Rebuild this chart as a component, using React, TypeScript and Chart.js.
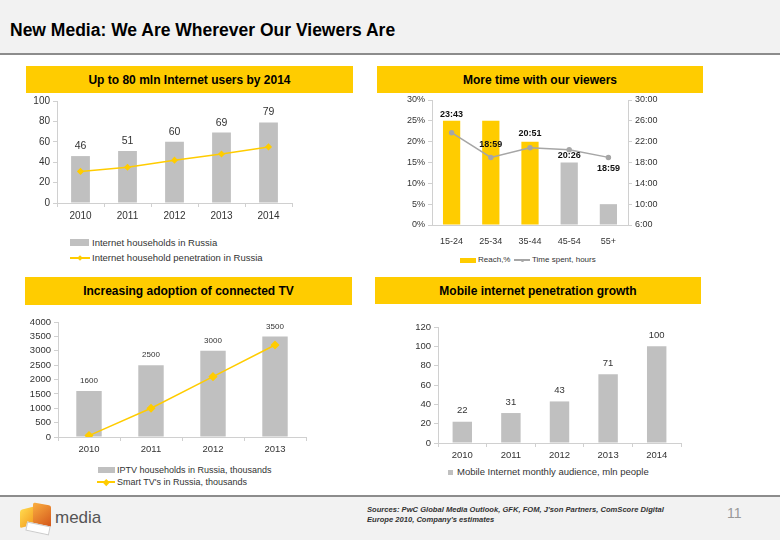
import React, { useEffect, useRef } from "react";
import { Chart, registerables } from "chart.js";

Chart.register(...registerables);

// ---------- DATA ----------
const yearsInternet = ["2010", "2011", "2012", "2013", "2014"];
const internetHouseholds = [46, 51, 60, 69, 79];
const internetPenetration = [31, 35, 42, 48, 55];

const ageGroups = ["15-24", "25-34", "35-44", "45-54", "55+"];
const reachPct = [25, 25, 20, 15, 5];
const timeSpentHours = [23 + 43 / 60, 18 + 59 / 60, 20 + 51 / 60, 20 + 26 / 60, 18 + 59 / 60];
const timeSpentLabels = ["23:43", "18:59", "20:51", "20:26", "18:59"];

const yearsTV = ["2010", "2011", "2012", "2013"];
const iptvHouseholds = [1600, 2500, 3000, 3500];
const smartTVs = [50, 1000, 2100, 3200];

const yearsMobile = ["2010", "2011", "2012", "2013", "2014"];
const mobileAudience = [22, 31, 43, 71, 100];

// ---------- STYLE ----------
const YELLOW = "#FFCC00";
const GRAY_BAR = "#C0C0C0";
const AXIS = "#D0D0D0";
const TEXT = "#333333";
const FONT = "'Liberation Sans', Arial, sans-serif";

const valueLabels = {
  id: "valueLabels",
  afterDatasetsDraw(chart: any, _args: any, opts: any) {
    if (!opts || !opts.items) return;
    const ctx = chart.ctx;
    opts.items.forEach((item: any) => {
      const meta = chart.getDatasetMeta(item.dataset);
      const ds = chart.data.datasets[item.dataset];
      meta.data.forEach((el: any, i: number) => {
        const text = item.texts ? item.texts[i] : String(ds.data[i]);
        const dy = Array.isArray(item.dy) ? item.dy[i] : item.dy;
        ctx.save();
        ctx.font = item.font;
        ctx.fillStyle = item.color;
        ctx.textAlign = "center";
        ctx.textBaseline = "middle";
        ctx.fillText(text, el.x, el.y + dy);
        ctx.restore();
      });
    });
  },
};

function yAxis(width: number, size: number, extra: any = {}) {
  return {
    afterFit: (s: any) => {
      s.width = width;
    },
    grid: { drawOnChartArea: false, tickLength: 4, color: AXIS },
    border: { color: AXIS },
    ticks: { color: TEXT, font: { family: FONT, size }, padding: 3 },
    ...extra,
  };
}

function xAxis(height: number, size: number, extra: any = {}) {
  return {
    afterFit: (s: any) => {
      s.height = height;
    },
    grid: { drawOnChartArea: false, offset: true, tickLength: 4, color: AXIS },
    border: { color: AXIS },
    ticks: { color: TEXT, font: { family: FONT, size }, padding: 3, maxRotation: 0 },
    ...extra,
  };
}

function ChartBox(props: { left: number; top: number; width: number; height: number; make: () => any }) {
  const ref = useRef<HTMLCanvasElement>(null);
  useEffect(() => {
    const chart = new Chart(ref.current as HTMLCanvasElement, props.make());
    return () => chart.destroy();
  }, []);
  return (
    <div style={{ position: "absolute", left: props.left, top: props.top, width: props.width, height: props.height }}>
      <canvas ref={ref} width={props.width} height={props.height} />
    </div>
  );
}

const baseOptions = (padding: any) => ({
  animation: false,
  responsive: false,
  maintainAspectRatio: false,
  layout: { padding },
  plugins: { legend: { display: false }, tooltip: { enabled: false } },
});

function makeInternet() {
  const o: any = baseOptions({ top: 11, right: 18, left: 0, bottom: 0 });
  o.scales = {
    x: xAxis(27, 10),
    y: yAxis(47, 10, { min: 0, max: 100, ticks: { color: TEXT, font: { family: FONT, size: 10 }, padding: 3, stepSize: 20 } }),
  };
  o.plugins.valueLabels = {
    items: [{ dataset: 1, dy: -10, font: `10.5px ${FONT}`, color: TEXT }],
  };
  return {
    type: "bar",
    data: {
      labels: yearsInternet,
      datasets: [
        {
          type: "line",
          data: internetPenetration,
          borderColor: YELLOW,
          backgroundColor: YELLOW,
          borderWidth: 1.5,
          pointStyle: "rectRot",
          pointRadius: 2.5,
          order: 0,
        },
        {
          type: "bar",
          data: internetHouseholds,
          backgroundColor: GRAY_BAR,
          categoryPercentage: 1,
          barPercentage: 0.4,
          order: 1,
        },
      ],
    },
    options: o,
    plugins: [valueLabels],
  };
}

function makeTime() {
  const o: any = baseOptions({ top: 10, right: 0, left: 0, bottom: 0 });
  o.scales = {
    x: xAxis(25, 9, { grid: { display: false }, border: { color: AXIS } }),
    y: yAxis(52, 9, {
      position: "left",
      min: 0,
      max: 30,
      ticks: { color: TEXT, font: { family: FONT, size: 9 }, padding: 3, stepSize: 5, callback: (v: any) => v + "%" },
    }),
    y1: yAxis(52, 9, {
      position: "right",
      min: 6,
      max: 30,
      ticks: { color: TEXT, font: { family: FONT, size: 9 }, padding: 3, stepSize: 4, callback: (v: any) => v + ":00" },
    }),
  };
  o.plugins.valueLabels = {
    items: [
      {
        dataset: 0,
        dy: [-18, -13, -14, 6, 11],
        texts: timeSpentLabels,
        font: `bold 9px ${FONT}`,
        color: "#111",
      },
    ],
  };
  return {
    type: "bar",
    data: {
      labels: ageGroups,
      datasets: [
        {
          type: "line",
          data: timeSpentHours,
          yAxisID: "y1",
          borderColor: "#A6A6A6",
          backgroundColor: "#A6A6A6",
          borderWidth: 1.5,
          pointRadius: 2,
          order: 0,
        },
        {
          type: "bar",
          data: reachPct,
          yAxisID: "y",
          backgroundColor: [YELLOW, YELLOW, YELLOW, GRAY_BAR, GRAY_BAR],
          categoryPercentage: 1,
          barPercentage: 0.44,
          order: 1,
        },
      ],
    },
    options: o,
    plugins: [valueLabels],
  };
}

function makeTV() {
  const o: any = baseOptions({ top: 12, right: 14, left: 0, bottom: 0 });
  o.scales = {
    x: xAxis(23, 9.5),
    y: yAxis(48, 9.5, {
      min: 0,
      max: 4000,
      ticks: {
        color: TEXT,
        font: { family: FONT, size: 9.5 },
        padding: 3,
        stepSize: 500,
        autoSkip: false,
        callback: (v: any) => String(v),
      },
    }),
  };
  o.plugins.valueLabels = {
    items: [{ dataset: 1, dy: -10, font: `8px ${FONT}`, color: TEXT }],
  };
  return {
    type: "bar",
    data: {
      labels: yearsTV,
      datasets: [
        {
          type: "line",
          data: smartTVs,
          borderColor: YELLOW,
          backgroundColor: YELLOW,
          borderWidth: 1.5,
          pointStyle: "rectRot",
          pointRadius: 3.5,
          order: 0,
        },
        {
          type: "bar",
          data: iptvHouseholds,
          backgroundColor: GRAY_BAR,
          categoryPercentage: 1,
          barPercentage: 0.41,
          order: 1,
        },
      ],
    },
    options: o,
    plugins: [valueLabels],
  };
}

function makeMobile() {
  const o: any = baseOptions({ top: 12, right: 9, left: 0, bottom: 0 });
  o.scales = {
    x: xAxis(22, 9.5),
    y: yAxis(58, 9.5, { min: 0, max: 120, ticks: { color: TEXT, font: { family: FONT, size: 9.5 }, padding: 3, stepSize: 20 } }),
  };
  o.plugins.valueLabels = {
    items: [{ dataset: 0, dy: -11, font: `9.5px ${FONT}`, color: TEXT }],
  };
  return {
    type: "bar",
    data: {
      labels: yearsMobile,
      datasets: [
        {
          type: "bar",
          data: mobileAudience,
          backgroundColor: GRAY_BAR,
          categoryPercentage: 1,
          barPercentage: 0.4,
        },
      ],
    },
    options: o,
    plugins: [valueLabels],
  };
}

function YellowBar(props: { left: number; top: number; width: number; height: number; text: string }) {
  return (
    <div
      style={{
        position: "absolute",
        left: props.left,
        top: props.top,
        width: props.width,
        height: props.height,
        background: YELLOW,
        display: "flex",
        alignItems: "center",
        justifyContent: "center",
        fontWeight: "bold",
        fontSize: 12,
        color: "#000",
      }}
    >
      {props.text}
    </div>
  );
}

function LegendRect(p: { left: number; top: number; w: number; h: number; color: string }) {
  return <div style={{ position: "absolute", left: p.left, top: p.top, width: p.w, height: p.h, background: p.color }} />;
}

function LegendLine(p: { left: number; y: number; w: number; color: string; marker: number; round?: boolean }) {
  return (
    <>
      <div style={{ position: "absolute", left: p.left, top: p.y - 0.75, width: p.w, height: 1.5, background: p.color }} />
      <div
        style={{
          position: "absolute",
          left: p.left + p.w / 2 - p.marker / 2,
          top: p.y - p.marker / 2,
          width: p.marker,
          height: p.marker,
          background: p.color,
          borderRadius: p.round ? "50%" : 0,
          transform: p.round ? "none" : "rotate(45deg)",
        }}
      />
    </>
  );
}

function Txt(p: { left: number; y: number; size: number; text: string; color?: string; style?: any }) {
  return (
    <div
      style={{
        position: "absolute",
        left: p.left,
        top: p.y - p.size * 0.6,
        fontSize: p.size,
        lineHeight: `${p.size * 1.2}px`,
        color: p.color || TEXT,
        whiteSpace: "nowrap",
        ...(p.style || {}),
      }}
    >
      {p.text}
    </div>
  );
}

export default function App() {
  return (
    <div
      style={{
        position: "fixed",
        left: 0,
        top: 0,
        width: 780,
        height: 540,
        overflow: "hidden",
        background: "#fff",
        fontFamily: FONT,
      }}
    >
      {/* header */}
      <div style={{ position: "absolute", left: 0, top: 0, width: 780, height: 53, background: "#F2F2F2" }} />
      <div style={{ position: "absolute", left: 0, top: 53, width: 780, height: 2, background: "#8C8C8C" }} />
      <Txt left={10} y={30} size={17.5} text="New Media: We Are Wherever Our Viewers Are" color="#000" style={{ fontWeight: "bold" }} />

      {/* section bars */}
      <YellowBar left={26} top={66} width={327} height={27} text="Up to 80 mln Internet users by 2014" />
      <YellowBar left={377} top={66} width={326} height={27} text="More time with our viewers" />
      <YellowBar left={25} top={277} width={327} height={28} text="Increasing adoption of connected TV" />
      <YellowBar left={375} top={277} width={326} height={27} text="Mobile internet penetration growth" />

      {/* charts */}
      <ChartBox left={10} top={90} width={300} height={140} make={makeInternet} />
      <ChartBox left={380} top={90} width={300} height={160} make={makeTime} />
      <ChartBox left={10} top={310} width={310} height={150} make={makeTV} />
      <ChartBox left={380} top={315} width={310} height={150} make={makeMobile} />

      {/* legends chart 1 */}
      <LegendRect left={70} top={239} w={19} h={7} color={GRAY_BAR} />
      <Txt left={92} y={243} size={9.5} text="Internet households in Russia" />
      <LegendLine left={70} y={258} w={20} color={YELLOW} marker={4} />
      <Txt left={92} y={258} size={9.5} text="Internet household penetration in Russia" />

      {/* legend chart 2 */}
      <LegendRect left={460} top={258} w={16} h={5} color={YELLOW} />
      <Txt left={478} y={260} size={8} text="Reach,%" />
      <LegendLine left={514} y={260} w={16} color="#A6A6A6" marker={3} round />
      <Txt left={532} y={260} size={8} text="Time spent, hours" />

      {/* legend chart 3 */}
      <LegendRect left={98} top={467} w={17} h={6} color={GRAY_BAR} />
      <Txt left={117} y={470} size={9} text="IPTV households in Russia, thousands" />
      <LegendLine left={97} y={482} w={18} color={YELLOW} marker={4.5} />
      <Txt left={117} y={482} size={9} text="Smart TV's in Russia, thousands" />

      {/* legend chart 4 */}
      <LegendRect left={448} top={470} w={5} h={5} color={GRAY_BAR} />
      <Txt left={457} y={472} size={9.5} text="Mobile Internet monthly audience, mln people" />

      {/* footer */}
      <div style={{ position: "absolute", left: 0, top: 495, width: 780, height: 2, background: "#8C8C8C" }} />
      <div style={{ position: "absolute", left: 0, top: 497, width: 780, height: 43, background: "#F2F2F2" }} />
      {/* logo */}
      <div style={{ position: "absolute", left: 20, top: 508, width: 16, height: 18, background: "linear-gradient(135deg,#FFD84D,#F39A1E)", transform: "skewY(-15deg)", borderRadius: 2 }} />
      <div style={{ position: "absolute", left: 33, top: 504, width: 18, height: 22, background: "linear-gradient(135deg,#FBB040,#D2531A)", transform: "skewY(10deg)", borderRadius: 2 }} />
      <div style={{ position: "absolute", left: 26, top: 524, width: 22, height: 7, background: "#fff", border: "1px solid #ccc", transform: "rotate(12deg)" }} />
      <Txt left={55} y={518} size={17} text="media" color="#555" />
      <div
        style={{
          position: "absolute",
          left: 367,
          top: 505,
          fontSize: 7.6,
          lineHeight: "10px",
          fontStyle: "italic",
          fontWeight: "bold",
          color: "#333",
          width: 320,
        }}
      >
        Sources: PwC Global Media Outlook, GFK, FOM, J'son Partners, ComScore Digital
        <br />
        Europe 2010, Company's estimates
      </div>
      <Txt left={727} y={513} size={14} text="11" color="#999" />
    </div>
  );
}
